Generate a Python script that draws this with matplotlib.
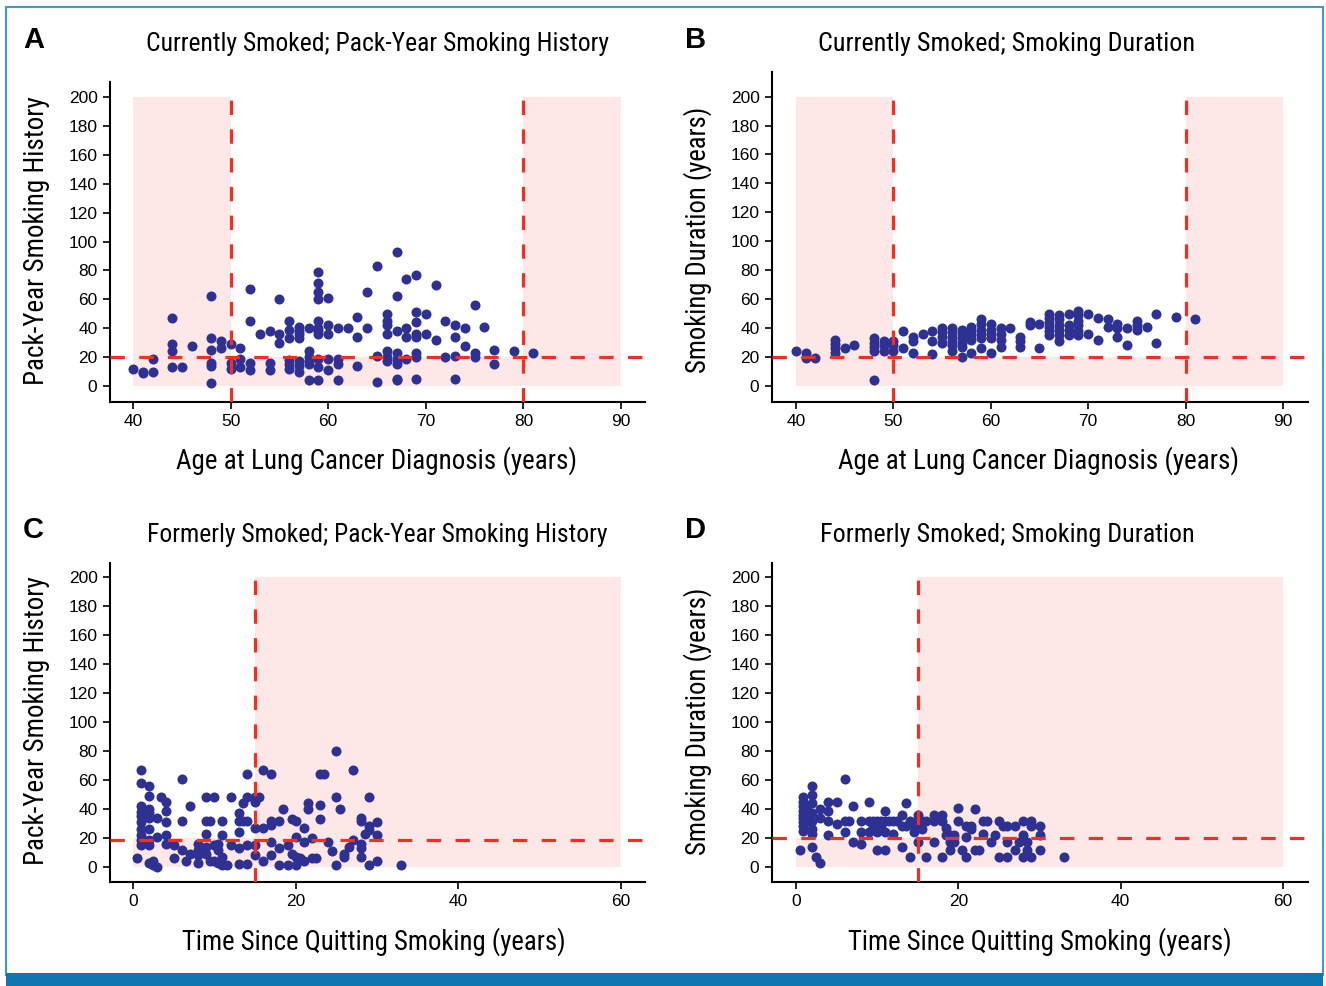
import matplotlib.pyplot as plt
from matplotlib.patches import Rectangle
import matplotlib.font_manager as fm

# ---- data ----
# A: currently smoked, age at diagnosis vs pack-years
a_age = [40, 41, 41, 42, 42, 44, 44, 44, 44, 45, 46, 48, 48, 48, 48, 48, 48, 49, 49,
         50, 50, 50, 51, 51, 51, 52, 52, 52, 52, 53, 54, 54, 54, 55, 55, 55,
         56, 56, 56, 56, 56, 56, 57, 57, 57, 57, 57, 57, 57, 58, 58, 58, 58, 58, 58,
         59, 59, 59, 59, 59, 59, 59, 59, 59, 59, 59, 60, 60, 60, 60, 60, 61, 61, 61, 61,
         62, 63, 63, 63, 64, 64, 65, 65, 65, 66, 66, 66, 66, 66, 66, 66,
         67, 67, 67, 67, 67, 67, 67, 67, 68, 68, 68, 68, 69, 69, 69, 69, 69, 69, 69, 69,
         70, 70, 71, 71, 72, 72, 73, 73, 73, 73, 74, 74, 75, 75, 75, 76, 77, 77, 79, 81]
a_pack = [12, 10, 9, 19, 10, 47, 29, 24, 13, 13, 28, 62, 33, 25, 16, 14, 2, 31, 26,
          29, 16, 12, 26, 19, 13, 67, 45, 16, 11, 36, 38, 16, 11, 60, 36, 30,
          45, 39, 33, 18, 15, 12, 41, 38, 36, 33, 17, 14, 10, 40, 24, 20, 17, 15, 4,
          79, 71, 65, 60, 45, 40, 38, 36, 19, 13, 4, 61, 42, 36, 19, 11, 40, 19, 15, 4,
          40, 48, 34, 14, 65, 40, 83, 21, 3, 50, 45, 42, 36, 24, 20, 17,
          93, 62, 38, 23, 19, 15, 5, 4, 74, 40, 34, 19, 77, 51, 44, 36, 34, 23, 20, 5,
          50, 36, 70, 32, 45, 20, 42, 34, 21, 5, 40, 28, 56, 23, 20, 41, 25, 15, 24, 23]

# B: currently smoked, age at diagnosis vs smoking duration
b_age = [40, 41, 41, 42, 44, 44, 44, 44, 45, 46, 48, 48, 48, 48, 48, 49, 49, 49,
         50, 50, 50, 51, 51, 52, 52, 52, 53, 54, 54, 54, 55, 55, 55, 55,
         56, 56, 56, 56, 56, 56, 57, 57, 57, 57, 57, 57, 58, 58, 58, 58, 58,
         59, 59, 59, 59, 59, 59, 60, 60, 60, 60, 60, 61, 61, 61, 61, 62, 63, 63, 63,
         64, 64, 65, 65, 66, 66, 66, 66, 66, 66, 67, 67, 67, 67, 67, 67,
         68, 68, 68, 68, 69, 69, 69, 69, 69, 69, 70, 70, 71, 71, 72, 72, 73, 73, 73,
         74, 74, 75, 75, 75, 76, 77, 77, 79, 81]
b_dur = [24, 23, 19, 19, 32, 29, 26, 23, 26, 28, 33, 30, 27, 24, 4, 31, 28, 24,
         31, 28, 24, 38, 26, 34, 31, 23, 36, 38, 31, 22, 40, 37, 34, 30,
         40, 37, 34, 31, 28, 24, 39, 36, 33, 30, 27, 20, 41, 38, 35, 32, 23,
         46, 43, 39, 36, 33, 26, 43, 39, 36, 33, 23, 40, 36, 32, 27, 40, 34, 31, 27,
         44, 42, 43, 26, 50, 47, 44, 41, 38, 35, 49, 46, 42, 39, 35, 31,
         50, 42, 39, 35, 52, 49, 45, 42, 38, 35, 50, 36, 47, 32, 46, 41, 43, 40, 34,
         40, 28, 45, 42, 39, 41, 50, 30, 48, 46]

# C: formerly smoked, time since quitting vs pack-years
c_quit = [0.5, 1, 1, 1, 1, 1, 1, 1, 1, 1, 1, 2, 2, 2, 2, 2, 2, 2, 2, 2, 2.5, 2.5,
          3, 3, 3, 3.5, 4, 4, 4, 4, 4, 5, 5, 6, 6, 6, 6.5, 7, 7, 8, 8, 8, 8,
          9, 9, 9, 9, 9, 9.5, 9.5, 10, 10, 10, 10.5, 10.5, 10.5, 11, 11, 11, 11, 11.5,
          12, 12, 13, 13, 13, 13, 13, 13.5, 13.5, 14, 14, 14, 14, 14,
          15, 15, 15, 15, 15, 15.5, 16, 16, 16, 17, 17, 17, 17, 17, 18, 18, 18, 18.5,
          19, 19, 19.5, 19.5, 20, 20, 20, 20, 20.5, 21, 21, 21, 21.5, 21.5, 22, 22, 22.5,
          23, 23, 23, 23.5, 24, 24.5, 25, 25, 25, 25.5, 26, 26, 26.5, 27, 27,
          28, 28, 28, 28, 28, 28.5, 29, 29, 29, 29, 30, 30, 30, 33]
c_pack = [6, 67, 58, 42, 38, 35, 31, 26, 22, 19, 15, 56, 49, 40, 37, 34, 26, 19, 15, 2.5, 4, 1.5,
          34, 21, 0, 48, 45, 39, 31, 22, 16, 15, 6, 61, 32, 12, 4, 42, 9, 16, 12, 8, 2.5,
          48, 32, 23, 14, 9, 32, 4, 48, 15, 4, 16, 12, 2.5, 32, 22, 7, 1.5, 1.5,
          48, 15, 37, 32, 24, 13, 2, 44, 32, 64, 48, 32, 15, 2,
          48, 45, 27, 15, 8, 48, 67, 27, 4, 64, 32, 29, 17, 8, 32, 13, 1.5, 40,
          15, 1.5, 33, 9, 32, 21, 7, 1.5, 6, 27, 17, 4, 44, 40, 20, 6, 6,
          64, 43, 33, 64, 17, 11, 80, 48, 1.5, 40, 9, 7, 14, 67, 19,
          34, 32, 16, 13, 7, 23, 48, 28, 25.5, 1.5, 31, 22, 4, 1.5]

# D: formerly smoked, time since quitting vs smoking duration
d_quit = [0.5, 0.9, 0.9, 0.9, 0.9, 0.9, 0.9, 0.9, 0.9, 0.9, 1.4, 1.4, 1.4,
          2, 2, 2, 2, 2, 2, 2, 2, 2.5, 3, 3, 3, 4, 4, 4, 4, 5, 5, 6, 6, 6, 6.5,
          7, 7, 8, 8, 8, 9, 9, 9, 9.5, 9.5, 10, 10, 10, 10.5, 10.5, 11, 11, 11, 11, 11.5,
          12, 12, 12.5, 13, 13, 13, 13.5, 13.5, 14, 14, 14.5, 14.5, 15, 15, 15, 15.5, 15.5,
          16, 16, 17, 17, 17, 18, 18, 18, 18.5, 18.5, 19, 19, 19, 19.5, 19.5, 20, 20, 20.5,
          21, 21, 21, 21.5, 21.5, 22, 22, 22.5, 23, 23, 23.5, 24, 24.5, 25, 25, 25.5,
          26, 26, 26, 27, 27, 27.5, 28, 28, 28, 28.5, 28.5, 29, 29, 29, 30, 30, 30, 33]
d_dur = [12, 48, 45, 42, 39, 36, 34, 31, 28, 25, 42, 37, 32,
         56, 50, 44, 37, 32, 26, 23, 14, 7, 40, 34, 3, 45, 39, 32, 22, 45, 30, 61, 32, 24, 32,
         42, 17.5, 32, 24, 16, 45, 32, 24, 32, 28, 32, 24, 12, 32, 28, 39, 32, 24, 12, 32,
         32, 23, 32, 36, 28, 14, 44, 28, 32, 7, 28, 24, 36, 32, 17.5, 32, 26,
         32, 7, 36, 32, 17.5, 36, 32, 7, 27, 22, 22, 17.5, 12, 22, 17.5, 41, 32, 12,
         28, 21, 7, 28, 26, 40, 12, 12, 32, 23, 32, 17.5, 22, 32, 7, 28,
         28, 17.5, 7, 28, 12, 17.5, 32, 22, 7, 17.5, 12, 32, 28, 7, 28, 22, 12, 7]

titles = ["Currently Smoked; Pack-Year Smoking History",
          "Currently Smoked; Smoking Duration",
          "Formerly Smoked; Pack-Year Smoking History",
          "Formerly Smoked; Smoking Duration"]
letters = ["A", "B", "C", "D"]
age_label = "Age at Lung Cancer Diagnosis (years)"
quit_label = "Time Since Quitting Smoking (years)"
pack_label = "Pack-Year Smoking History"
dur_label = "Smoking Duration (years)"

# ---- styling ----
W, H = 1326, 986
names = {f.name for f in fm.fontManager.ttflist}
narrow = next((n for n in ["Roboto Condensed", "Liberation Sans Narrow", "Archivo Narrow",
                           "Asap Condensed"] if n in names), "DejaVu Sans")
plain = "Liberation Sans" if "Liberation Sans" in names else "DejaVu Sans"
plt.rcParams['font.family'] = [plain, 'DejaVu Sans']

dot = '#2e3192'
pink = '#fde7e7'
red = '#ee3124'

fig = plt.figure(figsize=(W / 100, H / 100), dpi=100)
renderer = fig.canvas.get_renderer()


def fbox(l, t, r, b):
    return [l / W, 1 - b / H, (r - l) / W, (b - t) / H]


def fit_text(x, y, s, span, size, rotation=0):
    # place text in the narrow face, scaled so its length matches the reference
    t = fig.text(x / W, 1 - y / H, s, ha='center', va='center', fontsize=size,
                 rotation=rotation, family=[narrow, 'DejaVu Sans'])
    bb = t.get_window_extent(renderer)
    cur = bb.height if rotation else bb.width
    t.set_fontsize(size * span / cur)
    return t


def panel(box, xs, ys, xlim, ylim, xticks, vlines, hline, shade):
    ax = fig.add_axes(fbox(*box))
    x0, x1 = xticks[0], xticks[-1]
    # pink shaded zones
    for a, b in shade:
        ax.add_patch(Rectangle((a, 0), b - a, 200, color=pink, lw=0, zorder=0))
    ax.add_patch(Rectangle((x0, 0), x1 - x0, 20, color=pink, lw=0, zorder=0))
    for v in vlines:
        ax.plot([v, v], [ylim[0], 200], color=red, lw=2.3, ls=(0, (4.5, 4.5)), zorder=3)
    ax.axhline(hline, color=red, lw=2.3, ls=(0, (4.5, 4.5)), zorder=3)
    ax.scatter(xs, ys, s=52, color=dot, lw=0, zorder=2)
    ax.set_xlim(*xlim)
    ax.set_ylim(*ylim)
    ax.set_xticks(xticks)
    ax.set_yticks(range(0, 201, 20))
    for s in ['top', 'right']:
        ax.spines[s].set_visible(False)
    for s in ['left', 'bottom']:
        ax.spines[s].set_linewidth(1.5)
    ax.tick_params(direction='out', length=5, width=1.2, labelsize=12.5, pad=4)
    return ax


panel((110, 82, 645, 402), a_age, a_pack, (37.64, 92.46), (-11.07, 210.4),
      [40, 50, 60, 70, 80, 90], [50, 80], 20, [(40, 50), (80, 90)])
panel((772, 72, 1308, 402), b_age, b_dur, (37.54, 92.57), (-11.07, 217),
      [40, 50, 60, 70, 80, 90], [50, 80], 20, [(40, 50), (80, 90)])
panel((110, 563, 645, 882), c_quit, c_pack, (-2.83, 62.95), (-10.3, 209.7),
      [0, 20, 40, 60], [15], 18.4, [(15, 60)])
panel((772, 563, 1308, 882), d_quit, d_dur, (-2.96, 63.08), (-10.3, 209.7),
      [0, 20, 40, 60], [15], 20, [(15, 60)])

# titles
for (cx, cy, span), t in zip([(377.5, 44, 465), (1007, 44, 378),
                              (377.5, 535, 463), (1007, 535, 376)], titles):
    fit_text(cx, cy, t, span, 16)
# axis labels
fit_text(377, 461, age_label, 400, 18)
fit_text(1038, 461, age_label, 400, 18)
fit_text(373.5, 942, quit_label, 383, 18)
fit_text(1040, 942, quit_label, 383, 18)
fit_text(37, 241, pack_label, 288, 18, rotation=90)
fit_text(698, 240, dur_label, 266, 18, rotation=90)
fit_text(37, 721, pack_label, 288, 18, rotation=90)
fit_text(698, 721, dur_label, 268, 18, rotation=90)

for (lx, ly), l in zip([(23, 40), (685, 40), (23, 530), (685, 530)], letters):
    fig.text(lx / W, 1 - ly / H, l, ha='left', va='center', fontsize=21,
             fontweight='bold')

# outer frame and bottom bar
fig.add_artist(Rectangle((6 / W, 1 - 975 / H), 1317 / W, 968 / H, transform=fig.transFigure,
                         fill=False, ec='#3d9ad1', lw=1.5))
fig.add_artist(Rectangle((6 / W, 0), 1317 / W, 13 / H, transform=fig.transFigure,
                         color='#0f76b2', lw=0))

fig.savefig('out.png', dpi=100)
